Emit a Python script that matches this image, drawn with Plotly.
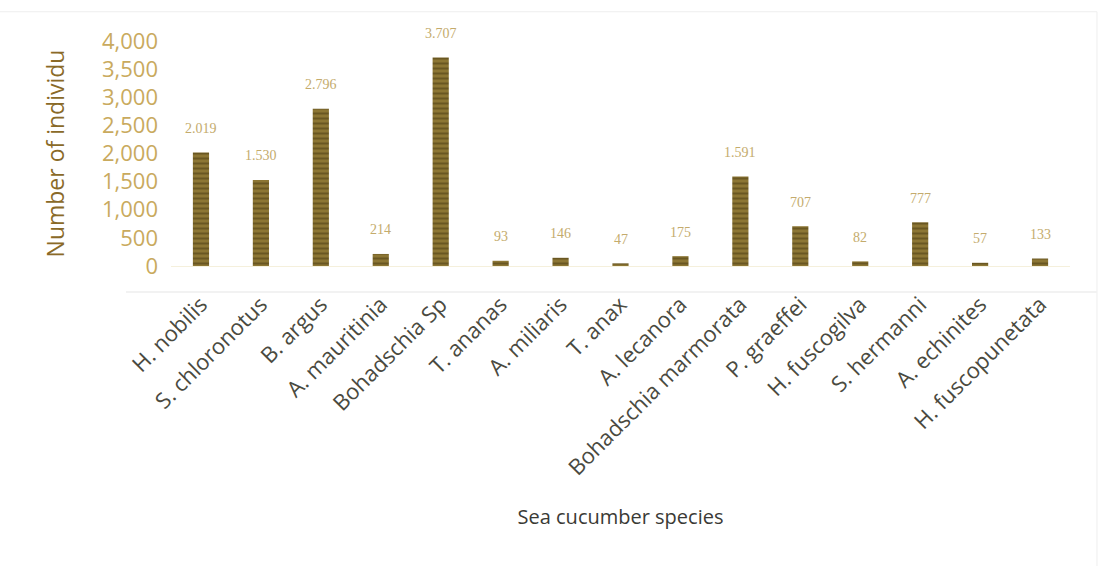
import plotly.graph_objects as go

species = ["H. nobilis", "S. chloronotus", "B. argus", "A. mauritinia", "Bohadschia Sp",
           "T. ananas", "A. miliaris", "T. anax", "A. lecanora", "Bohadschia marmorata",
           "P. graeffei", "H. fuscogilva", "S. hermanni", "A. echinites", "H. fuscopunetata"]
counts = [2019, 1530, 2796, 214, 3707, 93, 146, 47, 175, 1591, 707, 82, 777, 57, 133]
labels = ["2.019", "1.530", "2.796", "214", "3.707", "93", "146", "47", "175", "1.591",
          "707", "82", "777", "57", "133"]
y_ticks = [0, 500, 1000, 1500, 2000, 2500, 3000, 3500, 4000]
y_ticktext = ["0", "500", "1,000", "1,500", "2,000", "2,500", "3,000", "3,500", "4,000"]

fig = go.Figure()
fig.add_trace(go.Bar(
    x=species, y=counts,
    marker=dict(color="#7a6427", line=dict(width=0),
                pattern=dict(shape="-", fgcolor="#45370f", size=5, solidity=0.4, bgcolor="#8c7634")),
))

for s, v, t in zip(species, counts, labels):
    fig.add_annotation(x=s, y=v, text=t, showarrow=False, yshift=24,
                       font=dict(family="Liberation Serif", size=14, color="#c4ab6c"))

fig.update_layout(
    width=1105, height=566,
    margin=dict(l=171, r=35, t=41, b=300),
    paper_bgcolor="white", plot_bgcolor="white",
    bargap=0.73,
    showlegend=False,
    font=dict(family="Open Sans"),
    xaxis=dict(
        tickangle=-45,
        tickfont=dict(family="Open Sans", size=22, color="#4a4a40"),
        ticklabelstandoff=16,
        showgrid=False, showline=True, linecolor="#f5f0dc", linewidth=1,
        ticks="",
        title=dict(text="Sea cucumber species", font=dict(family="Open Sans", size=20, color="#3a3a35"), standoff=30),
    ),
    yaxis=dict(
        range=[0, 4000],
        tickvals=y_ticks, ticktext=y_ticktext,
        tickfont=dict(family="Open Sans", size=22, color="#c9aa5e"),
        ticklabelstandoff=12,
        showgrid=False, zeroline=False, showline=False, ticks="",
        title=dict(text="Number of individu", font=dict(family="Open Sans", size=23, color="#8a6a28"), standoff=30),
    ),
)

fig.add_shape(type="rect", xref="paper", yref="paper", x0=-0.2, x1=1.03, y0=-1.4, y1=1.13,
              line=dict(color="#eeeeee", width=1))
fig.add_shape(type="line", xref="paper", yref="paper", x0=-0.05, x1=1.03, y0=-0.115, y1=-0.115,
              line=dict(color="#f2f2f2", width=2))

fig.write_html("out.html")
